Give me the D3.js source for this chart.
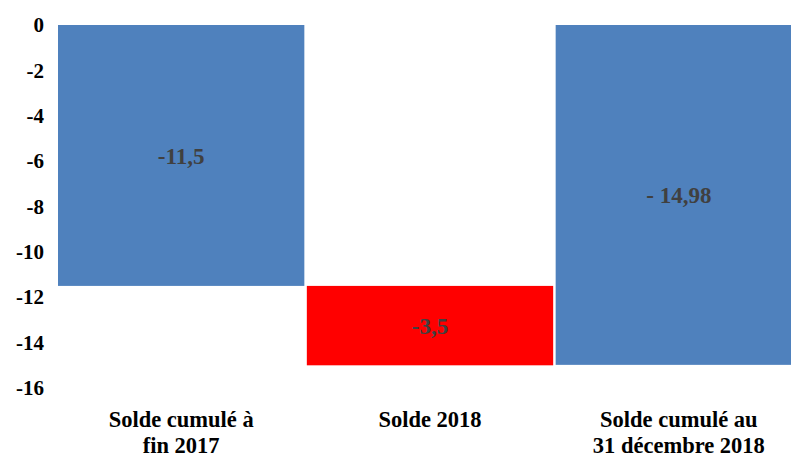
<!DOCTYPE html>
<html lang="fr">
<head>
    <meta charset="UTF-8">
    <title>Solde cumulé</title>
    <script src="https://d3js.org/d3.v7.min.js"></script>
    <style>
        body { margin: 0; background: #fff; }
        text { font-family: "Liberation Serif", "Times New Roman", serif; font-weight: bold; }
    </style>
</head>
<body>
<script>
    // data
    var categories = ["Solde cumulé à fin 2017", "Solde 2018", "Solde cumulé au 31 décembre 2018"];
    var catLines = [["Solde cumulé à", "fin 2017"], ["Solde 2018"], ["Solde cumulé au", "31 décembre 2018"]];
    var bases = [0, -11.5, 0];
    var values = [-11.5, -3.5, -14.98];
    var valueLabels = ["-11,5", "-3,5", "- 14,98"];
    var colors = ["#4f81bd", "#ff0000", "#4f81bd"];
    var yTicks = [0, -2, -4, -6, -8, -10, -12, -14, -16];

    var W = 791, H = 459;
    var svg = d3.select("body").append("svg").attr("width", W).attr("height", H);

    var x = d3.scaleBand().domain(categories).range([58, 802]).paddingInner(0.01).paddingOuter(0);
    var y = d3.scaleLinear().domain([0, -16]).range([25, 388]);

    // bars
    svg.append("g").selectAll("rect")
        .data(categories)
        .enter().append("rect")
        .attr("x", function (d) { return x(d); })
        .attr("width", x.bandwidth())
        .attr("y", function (d, i) { return y(Math.max(bases[i], bases[i] + values[i])); })
        .attr("height", function (d, i) { return Math.abs(y(bases[i] + values[i]) - y(bases[i])); })
        .attr("fill", function (d, i) { return colors[i]; });

    // value labels
    svg.append("g").selectAll("text")
        .data(categories)
        .enter().append("text")
        .attr("x", function (d) { return x(d) + x.bandwidth() / 2; })
        .attr("y", function (d, i) { return (y(bases[i]) + y(bases[i] + values[i])) / 2; })
        .attr("dy", "0.35em")
        .attr("text-anchor", "middle")
        .attr("font-size", 23)
        .attr("fill", "#404040")
        .text(function (d, i) { return valueLabels[i]; });

    // y axis, labels only
    var yAxis = svg.append("g")
        .attr("transform", "translate(44,0)")
        .call(d3.axisLeft(y).tickValues(yTicks).tickSize(0).tickPadding(0)
            .tickFormat(function (d) { return String(d); }));
    yAxis.select(".domain").remove();
    yAxis.selectAll("text")
        .style("font-family", "'Liberation Serif', serif")
        .style("font-weight", "bold")
        .style("font-size", "21px")
        .attr("fill", "#000");

    // category labels
    var cat = svg.append("g").selectAll("text")
        .data(categories)
        .enter().append("text")
        .attr("x", function (d) { return x(d) + x.bandwidth() / 2; })
        .attr("y", 427)
        .attr("text-anchor", "middle")
        .attr("font-size", 22.5)
        .attr("fill", "#000");
    cat.selectAll("tspan")
        .data(function (d, i) { return catLines[i]; })
        .enter().append("tspan")
        .attr("x", function () { return this.parentNode.getAttribute("x"); })
        .attr("dy", function (d, j) { return j === 0 ? 0 : 26; })
        .text(function (d) { return d; });
</script>
</body>
</html>
